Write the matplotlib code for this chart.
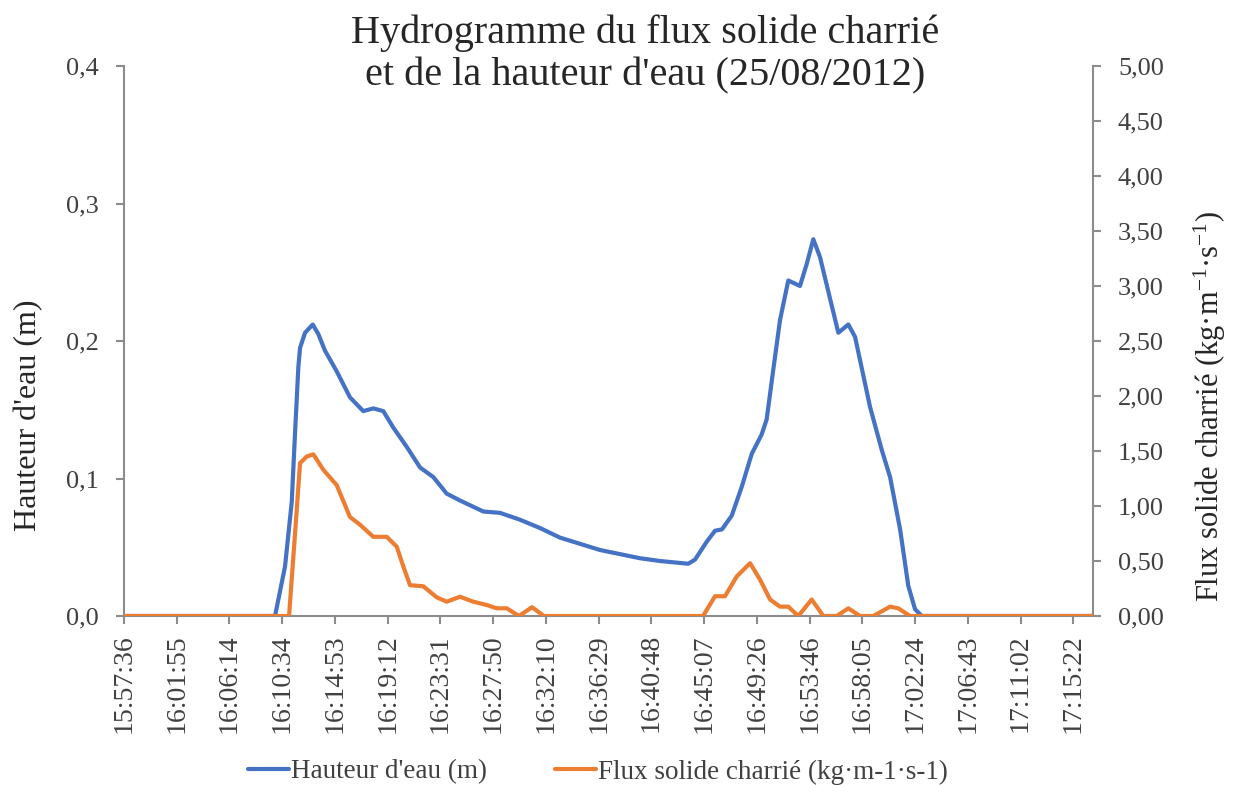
import matplotlib
matplotlib.use("Agg")
import matplotlib.pyplot as plt
from datetime import datetime

plt.rcParams['font.family'] = ['Liberation Serif', 'DejaVu Serif']
plt.rcParams['mathtext.fontset'] = 'custom'
plt.rcParams['mathtext.rm'] = 'Liberation Serif'
plt.rcParams['mathtext.it'] = 'Liberation Serif:italic'
plt.rcParams['mathtext.default'] = 'regular'

# ---- data (minutes elapsed since 15:57:36) ----
start_label = "15:57:36"
hauteur_t = [0.0, 12.37, 13.19, 13.74, 14.01, 14.28, 14.42, 14.83, 15.46, 15.92,
             16.46, 17.42, 18.51, 19.60, 20.42, 21.24, 22.06, 23.16, 24.25, 25.34,
             26.43, 27.52, 29.43, 30.80, 32.44, 34.07, 35.71, 38.99, 42.27, 43.90,
             46.22, 46.77, 47.73, 48.41, 48.98, 49.78, 50.60, 51.42, 52.23, 52.64,
             53.18, 53.73, 54.41, 55.37, 55.92, 56.46, 57.01, 57.69, 58.51, 59.33,
             59.88, 61.11, 62.06, 62.75, 63.57, 64.24, 64.79, 65.34, 66.02, 79.37]
hauteur_m = [0.0, 0.0, 0.036, 0.083, 0.133, 0.181, 0.195, 0.206, 0.212, 0.205,
             0.193, 0.178, 0.159, 0.149, 0.151, 0.149, 0.137, 0.123, 0.108, 0.101,
             0.089, 0.084, 0.076, 0.075, 0.070, 0.064, 0.057, 0.048, 0.042, 0.040,
             0.038, 0.041, 0.054, 0.062, 0.063, 0.073, 0.094, 0.118, 0.132, 0.143,
             0.179, 0.215, 0.244, 0.240, 0.256, 0.274, 0.261, 0.236, 0.206, 0.212,
             0.203, 0.152, 0.121, 0.101, 0.063, 0.022, 0.005, 0.0, 0.0, 0.0]

flux_t = [0.0, 13.52, 14.01, 14.42, 14.97, 15.51, 16.32, 17.42, 18.51, 19.33,
          20.42, 21.52, 22.34, 22.88, 23.43, 24.52, 25.61, 26.43, 27.52, 28.61,
          29.71, 30.53, 31.35, 32.35, 33.42, 34.40, 47.43, 48.41, 49.23, 50.19,
          51.28, 52.10, 52.92, 53.73, 54.41, 55.23, 56.33, 57.28, 58.38, 59.33,
          60.29, 61.38, 62.75, 63.42, 64.38, 79.37]
flux_val = [0.0, 0.0, 0.75, 1.39, 1.45, 1.47, 1.33, 1.19, 0.90, 0.83,
            0.72, 0.72, 0.63, 0.45, 0.28, 0.27, 0.17, 0.13, 0.175, 0.13,
            0.10, 0.07, 0.07, 0.0, 0.08, 0.0, 0.0, 0.18, 0.18, 0.36,
            0.48, 0.33, 0.15, 0.085, 0.085, 0.0, 0.15, 0.0, 0.0, 0.07,
            0.0, 0.0, 0.085, 0.07, 0.0, 0.0]

x_tick_labels = ["15:57:36", "16:01:55", "16:06:14", "16:10:34", "16:14:53",
                 "16:19:12", "16:23:31", "16:27:50", "16:32:10", "16:36:29",
                 "16:40:48", "16:45:07", "16:49:26", "16:53:46", "16:58:05",
                 "17:02:24", "17:06:43", "17:11:02", "17:15:22"]
left_ticks = [0.0, 0.1, 0.2, 0.3, 0.4]
right_ticks = [0.0, 0.5, 1.0, 1.5, 2.0, 2.5, 3.0, 3.5, 4.0, 4.5, 5.0]

title = "Hydrogramme du flux solide charrié\net de la hauteur d'eau (25/08/2012)"
left_label = "Hauteur d'eau (m)"
right_label = "Flux solide charrié (kg·m$^{-1}$·s$^{-1}$)"
leg_blue = "Hauteur d'eau (m)"
leg_orange = "Flux solide charrié (kg·m-1·s-1)"

BLUE = "#4472C4"
ORANGE = "#ED7D31"
AXC = "#8C8C8C"
TXT = "#404040"
DARK = "#262626"

def minutes(lbl):
    t0 = datetime.strptime(start_label, "%H:%M:%S")
    return (datetime.strptime(lbl, "%H:%M:%S") - t0).total_seconds() / 60.0

W, H = 1234, 785
fig = plt.figure(figsize=(W / 100, H / 100), dpi=100)
ax = fig.add_axes([124 / W, 1 - 616 / H, (1093 - 124) / W, (616 - 66) / H])
ax2 = ax.twinx()

l1, = ax.plot(hauteur_t, hauteur_m, color=BLUE, lw=3.0, solid_joinstyle='round',
              solid_capstyle='round', zorder=3)
l2, = ax2.plot(flux_t, flux_val, color=ORANGE, lw=3.0, solid_joinstyle='round',
               solid_capstyle='round', zorder=3)

ax.set_xlim(0, 79.37)
ax.set_ylim(0, 0.4)
ax2.set_ylim(0, 5.0)

ax.set_xticks([minutes(l) for l in x_tick_labels])
ax.set_xticklabels(x_tick_labels, rotation=90, fontsize=20, color=TXT)
ax.set_yticks(left_ticks)
ax.set_yticklabels([f"{v:.1f}".replace('.', ',') for v in left_ticks], fontsize=19, color=TXT)
ax2.set_yticks(right_ticks)
ax2.set_yticklabels([f"{v:.2f}".replace('.', ',') for v in right_ticks], fontsize=19, color=TXT)

for a in (ax, ax2):
    a.spines['top'].set_visible(False)
    for s in ('left', 'right', 'bottom'):
        a.spines[s].set_color(AXC)
        a.spines[s].set_linewidth(1.5)
    a.tick_params(axis='y', direction='out', length=6, width=1.5, color=AXC, pad=12)
ax.tick_params(axis='x', direction='out', length=6, width=1.5, color=AXC, pad=7)
ax.spines['right'].set_visible(False)
ax2.spines['left'].set_visible(False)
ax2.spines['bottom'].set_visible(False)

fig.text(29 / W, 1 - 415 / H, left_label, rotation=90, fontsize=23, color=DARK,
         ha='center', va='center')
fig.text(1210 / W, 1 - 406 / H, right_label, rotation=90, fontsize=22, color=DARK,
         ha='center', va='center')

fig.text(645 / W, 1 - 14 / H, title, fontsize=29, color=DARK, ha='center', va='top',
         linespacing=1.2)

fig.legend([l1, l2], [leg_blue, leg_orange], loc='center', bbox_to_anchor=(598 / W, 1 - 772 / H),
           ncol=2, frameon=False, fontsize=19.5, handlelength=1.5, handletextpad=0.1,
           columnspacing=2.5, labelcolor=TXT)

fig.savefig("out.png", dpi=100)
